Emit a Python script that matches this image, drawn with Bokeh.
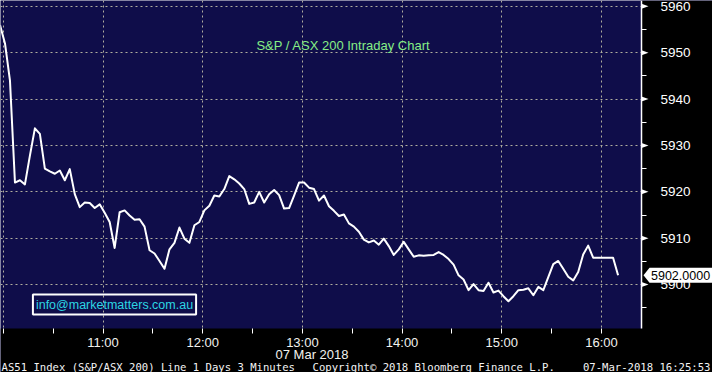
from bokeh.plotting import figure
from bokeh.models import Range1d, FixedTicker, Label, PolyAnnotation, BoxAnnotation
from bokeh.embed import file_html
from bokeh.resources import INLINE

# ---------------- data (minutes after 10:00, 3-minute bars) ----------------
START_MIN = -2
STEP_MIN = 3
VALUES = [
    5956.0, 5952.0, 5944.0, 5922.0, 5922.5, 5921.6, 5927.8, 5933.7, 5932.5, 5925.0,
    5924.4, 5923.9, 5924.6, 5922.5, 5924.9, 5919.5, 5916.7, 5917.7, 5917.6, 5916.5,
    5917.3, 5915.5, 5913.5, 5907.9, 5915.6, 5916.0, 5914.9, 5914.0, 5914.1, 5912.5,
    5907.4, 5906.7, 5905.1, 5903.4, 5907.6, 5909.0, 5912.3, 5909.9, 5909.0, 5912.8,
    5913.5, 5916.0, 5917.0, 5919.2, 5919.0, 5920.6, 5923.4, 5922.7, 5921.8, 5920.6,
    5917.4, 5917.7, 5920.0, 5917.7, 5919.5, 5920.4, 5919.3, 5916.4, 5916.5, 5919.2,
    5922.0, 5922.0, 5920.9, 5920.6, 5918.1, 5919.2, 5916.9, 5915.9, 5914.8, 5915.1,
    5913.2, 5912.5, 5911.4, 5909.7, 5909.1, 5909.5, 5908.6, 5909.9, 5908.3, 5906.4,
    5907.6, 5909.2, 5907.6, 5906.0, 5906.3, 5906.2, 5906.3, 5906.4, 5907.0, 5906.4,
    5905.5, 5904.3, 5902.0, 5901.1, 5898.8, 5900.1, 5898.8, 5898.6, 5900.4, 5898.3,
    5898.7, 5897.5, 5896.4, 5897.5, 5898.8, 5898.9, 5899.2, 5897.7, 5899.5, 5898.8,
    5901.6, 5904.4, 5905.1, 5903.4, 5901.7, 5900.9, 5902.7, 5906.5, 5908.4, 5905.8,
    5905.8, 5905.8, 5905.8, 5905.8, 5902.0,
]
TIMES = [START_MIN + STEP_MIN * i for i in range(len(VALUES))]
LAST_VALUE = 5902.0

HOUR_TICKS = [60, 120, 180, 240, 300, 360]
HOUR_LABELS = ["11:00", "12:00", "13:00", "14:00", "15:00", "16:00"]
GRID_HOURS = [0, 60, 120, 180, 240, 300, 360]
HALF_TICKS = [0, 30, 90, 150, 210, 270, 330]
Y_TICKS = [5900, 5910, 5920, 5930, 5940, 5950, 5960]
Y_MINOR = [5895, 5905, 5915, 5925, 5935, 5945, 5955]

TITLE = "S&P / ASX 200 Intraday Chart"
EMAIL = "info@marketmatters.com.au"
DATE_LABEL = "07 Mar 2018"
FOOT_LEFT = "AS51 Index (S&P/ASX 200) Line 1 Days 3 Minutes"
FOOT_MID = "Copyright\u00a9 2018 Bloomberg Finance L.P."
FOOT_RIGHT = "07-Mar-2018 16:25:53"

# ---------------- layout ----------------
W, H = 712, 372          # whole figure = frame
FW, FH = 641, 328        # navy plotting area (pixels)
X0, XA = -1.7, 384.1     # time range of the navy area (minutes)
YB, Y1 = 5890.53, 5961.26  # value range of the navy area
X_END = X0 + (XA - X0) * W / FW
Y_START = Y1 - (Y1 - YB) * H / FH

NAVY = "#0f0d4a"
GRID = "#b0ae9e"


def fx(px):
    return X0 + px / FW * (XA - X0)


def fy(py):
    return Y1 - py / FH * (Y1 - YB)


def dy(pix):
    return pix / FH * (Y1 - YB)


p = figure(width=W, height=H, x_range=Range1d(X0, X_END),
           y_range=Range1d(Y_START, Y1),
           y_axis_location="right", toolbar_location=None, tools="",
           output_backend="svg", background_fill_color=NAVY,
           border_fill_color="black", outline_line_color=None,
           min_border=0)

# grid
p.xgrid.ticker = FixedTicker(ticks=GRID_HOURS)
p.ygrid.ticker = FixedTicker(ticks=Y_TICKS)
for g in (p.xgrid[0], p.ygrid[0]):
    g.grid_line_color = GRID
    g.grid_line_dash = "2 3"
    g.grid_line_width = 1

# black margins (right of the value axis, below the time axis)
p.add_layout(BoxAnnotation(left=XA, fill_color="black", fill_alpha=1,
                           line_color=None, level="glyph"))
p.add_layout(BoxAnnotation(top=YB, fill_color="black", fill_alpha=1,
                           line_color=None, level="glyph"))

# x axis
xa = p.xaxis[0]
xa.fixed_location = YB
xa.ticker = FixedTicker(ticks=HOUR_TICKS, minor_ticks=HALF_TICKS)
xa.major_label_overrides = {t: l for t, l in zip(HOUR_TICKS, HOUR_LABELS)}
xa.axis_line_color = None
xa.major_tick_line_color = "white"
xa.major_tick_out = 5
xa.major_tick_in = 0
xa.minor_tick_line_color = "white"
xa.minor_tick_out = 5
xa.minor_tick_in = 0
xa.major_label_text_color = "#f2f2ee"
xa.major_label_text_font = "Liberation Sans"
xa.major_label_text_font_size = "13px"
xa.major_label_standoff = 1

# y axis (right edge of navy area)
ya = p.yaxis[0]
ya.fixed_location = XA
ya.bounds = (YB, Y1)
ya.ticker = FixedTicker(ticks=Y_TICKS, minor_ticks=Y_MINOR)
ya.axis_line_color = "white"
ya.axis_line_width = 1.5
ya.major_tick_out = 0
ya.major_tick_in = 0
ya.minor_tick_line_color = "white"
ya.minor_tick_out = 5
ya.minor_tick_in = 0
ya.major_label_text_color = "white"
ya.major_label_text_font = "Liberation Sans"
ya.major_label_text_font_size = "13.5px"
ya.major_label_standoff = 14

# triangles at major y ticks
for v in Y_TICKS:
    p.add_layout(PolyAnnotation(xs=[fx(FW), fx(FW + 7), fx(FW)],
                                ys=[v + dy(2.5), v, v - dy(2.5)],
                                fill_color="white", fill_alpha=1,
                                line_color=None))

# price line
p.line(TIMES, VALUES, line_color="white", line_width=2, line_join="round")

# last value tag
p.add_layout(PolyAnnotation(
    xs=[fx(FW + 2), fx(FW + 8), fx(W), fx(W), fx(FW + 8)],
    ys=[LAST_VALUE, LAST_VALUE + dy(7.5), LAST_VALUE + dy(7.5),
        LAST_VALUE - dy(7.5), LAST_VALUE - dy(7.5)],
    fill_color="white", fill_alpha=1, line_color=None))
p.add_layout(Label(x=fx(FW + 9.5), y=LAST_VALUE, text=f"{LAST_VALUE:.4f}",
                   text_font="Liberation Sans", text_font_size="12.5px",
                   text_color="black", text_align="left", text_baseline="middle"))

# title
p.add_layout(Label(x=fx(343), y=fy(45), text=TITLE, text_font="Liberation Sans",
                   text_font_size="13px", text_color="#86ee86",
                   text_align="center", text_baseline="middle"))

# email box
p.add_layout(Label(x=fx(114), y=fy(304), text=EMAIL, text_font="Liberation Sans",
                   text_font_size="12.5px", text_color="#2cd6e2",
                   text_align="center", text_baseline="middle",
                   border_line_color="white", border_line_width=2,
                   padding=3))

# date under axis
p.add_layout(Label(x=fx(348), y=fy(FH + 26), text=DATE_LABEL,
                   text_font="Liberation Sans", text_font_size="13px",
                   text_color="#f2f2ee", text_align="right",
                   text_baseline="middle"))

# footer
foot_y = fy(FH + 38.5)
for txt, xpx, align in ((FOOT_LEFT, 1, "left"), (FOOT_MID, 312, "left"),
                        (FOOT_RIGHT, 710, "right")):
    p.add_layout(Label(x=fx(xpx), y=foot_y, text=txt,
                       text_font="DejaVu Sans Mono", text_font_size="10.6px",
                       text_color="#f4f4f4", text_align=align,
                       text_baseline="middle"))

open("out.html", "w").write(file_html(p, INLINE))
